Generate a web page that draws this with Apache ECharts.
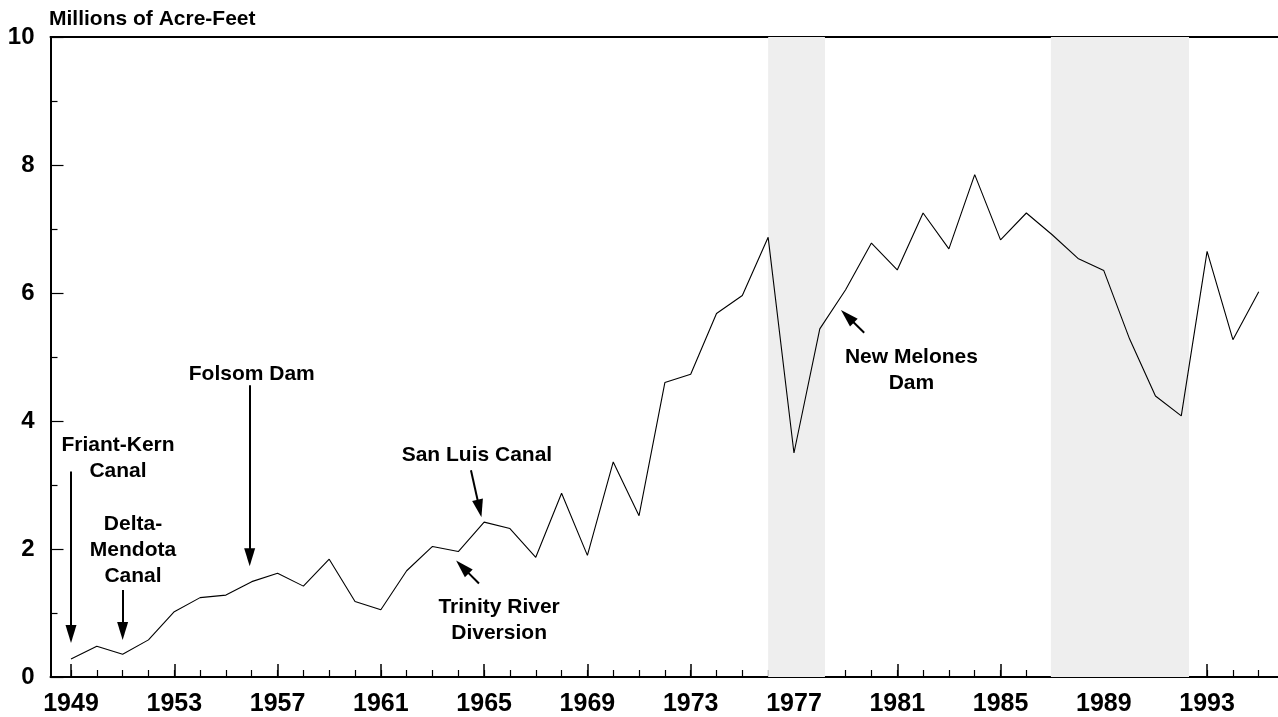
<!DOCTYPE html>
<html>
<head>
<meta charset="utf-8">
<script src="https://cdn.jsdelivr.net/npm/echarts@6/dist/echarts.min.js"></script>
<style>html,body{margin:0;padding:0;background:#fff}#c{width:1278px;height:717px}</style>
</head>
<body>
<div id="c"></div>
<script>
const years = [1949,1950,1951,1952,1953,1954,1955,1956,1957,1958,1959,1960,1961,1962,1963,1964,1965,1966,1967,1968,1969,1970,1971,1972,1973,1974,1975,1976,1977,1978,1979,1980,1981,1982,1983,1984,1985,1986,1987,1988,1989,1990,1991,1992,1993,1994,1995];
const water = [0.28,0.48,0.355,0.58,1.02,1.24,1.28,1.49,1.62,1.42,1.84,1.18,1.05,1.66,2.04,1.96,2.42,2.32,1.87,2.87,1.90,3.36,2.52,4.60,4.73,5.68,5.96,6.87,3.50,5.44,6.05,6.78,6.36,7.25,6.69,7.85,6.83,7.25,6.91,6.54,6.35,5.28,4.39,4.08,6.65,5.27,6.02];
const labelYears = [1949,1953,1957,1961,1965,1969,1973,1977,1981,1985,1989,1993];
const shadedPeriods = [[1976.0, 1978.2], [1986.95, 1992.3]];
const annotations = [
  {text: 'Friant-Kern\nCanal', at: [1950.82, 3.42]},
  {text: 'Delta-\nMendota\nCanal', at: [1951.4, 1.98]},
  {text: 'Folsom Dam', at: [1956.0, 4.73]},
  {text: 'San Luis Canal', at: [1964.72, 3.46]},
  {text: 'Trinity River\nDiversion', at: [1965.58, 0.88]},
  {text: 'New Melones\nDam', at: [1981.55, 4.79]}
];
const arrows = [
  [[1949, 3.21], [1949, 0.67]],
  [[1951, 1.36], [1951, 0.72]],
  [[1955.92, 4.56], [1955.92, 1.87]],
  [[1964.49, 3.23], [1964.82, 2.633]],
  [[1964.8, 1.46], [1964.16, 1.72]],
  [[1979.72, 5.38], [1979.07, 5.636]]
];

const FONT = "'Liberation Sans', Arial, Helvetica, sans-serif";
const xMin = 1948.206, xMax = 1995.746;
const chart = echarts.init(document.getElementById('c'), null, {renderer: 'canvas'});
const baseX = {
  type: 'value', min: xMin, max: xMax, position: 'bottom',
  splitLine: {show: false}
};
chart.setOption({
  animation: false,
  backgroundColor: '#ffffff',
  textStyle: {fontFamily: FONT},
  title: {
    text: 'Millions of Acre-Feet', left: 49, top: 9, padding: 0,
    textStyle: {fontFamily: FONT, fontWeight: 'bold', fontSize: 21, color: '#000'}
  },
  grid: {left: 50.5, right: 0, top: 37, bottom: 40, containLabel: false},
  xAxis: [
    Object.assign({}, baseX, {
      axisLine: {show: true, lineStyle: {color: '#000', width: 2}},
      axisTick: {show: true, inside: true, length: 13, customValues: labelYears, lineStyle: {color: '#000', width: 1.5}},
      axisLabel: {show: true, customValues: labelYears, formatter: v => String(Math.round(v)), margin: 15, fontFamily: FONT, fontWeight: 'bold', fontSize: 25, color: '#000'}
    }),
    Object.assign({}, baseX, {
      axisLine: {show: false},
      axisTick: {show: true, inside: true, length: 7, customValues: years, lineStyle: {color: '#000', width: 1.2}},
      axisLabel: {show: false}
    }),
    Object.assign({}, baseX, {
      position: 'top',
      axisLine: {show: true, lineStyle: {color: '#000', width: 2}},
      axisTick: {show: false},
      axisLabel: {show: false}
    })
  ],
  yAxis: {
    type: 'value', min: 0, max: 10, interval: 2,
    axisLine: {show: true, lineStyle: {color: '#000', width: 2}},
    axisTick: {show: true, inside: true, length: 13, lineStyle: {color: '#000', width: 1.2}},
    minorTick: {show: true, splitNumber: 2, length: 7, lineStyle: {color: '#000', width: 1.2}},
    axisLabel: {margin: 16, fontFamily: FONT, fontWeight: 'bold', fontSize: 24, color: '#000'},
    splitLine: {show: false}
  },
  series: [{
    type: 'line',
    xAxisIndex: 0,
    data: years.map((y, i) => [y, water[i]]),
    showSymbol: false,
    symbol: 'none',
    lineStyle: {color: '#000', width: 1.1},
    silent: true,
    z: 5,
    markArea: {
      silent: true,
      itemStyle: {color: '#eeeeee'},
      data: shadedPeriods.map(p => [{xAxis: p[0]}, {xAxis: p[1]}])
    },
    markLine: {
      silent: true,
      symbol: ['none', 'triangle'],
      symbolSize: [11, 18],
      lineStyle: {color: '#000', width: 2, type: 'solid'},
      label: {show: false},
      emphasis: {disabled: true},
      data: arrows.map(a => [{coord: a[0]}, {coord: a[1]}])
    },
    markPoint: {
      silent: true,
      symbol: 'rect',
      symbolSize: 1,
      itemStyle: {color: 'rgba(0,0,0,0)'},
      label: {
        show: true, position: 'inside', color: '#000', fontFamily: FONT,
        fontWeight: 'bold', fontSize: 21, lineHeight: 26, align: 'center',
        formatter: p => p.name
      },
      data: annotations.map(a => ({name: a.text, coord: a.at}))
    }
  }]
});
</script>
</body>
</html>
